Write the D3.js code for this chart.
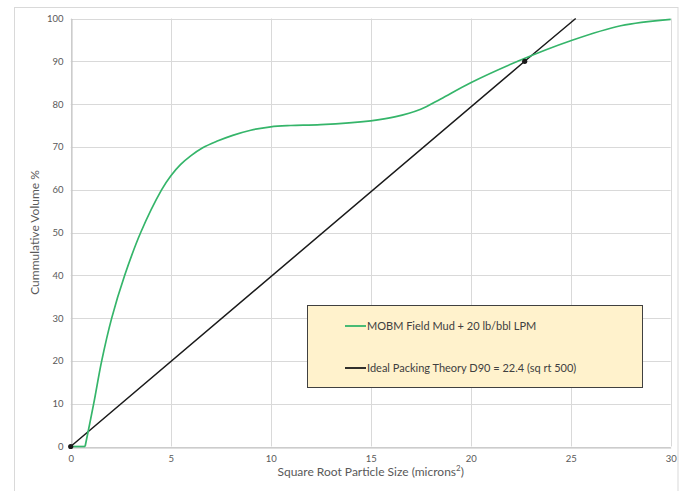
<!DOCTYPE html>
<html>
<head>
<meta charset="utf-8">
<script src="https://cdn.jsdelivr.net/npm/d3@7"></script>
<style>
  html, body { margin: 0; padding: 0; background: #ffffff; }
  svg { display: block; font-family: Lato, "Open Sans", "Liberation Sans", sans-serif; }
</style>
</head>
<body>
<svg id="chart" width="687" height="491"></svg>
<script>
// Particle size distribution: measured mud curve vs. ideal packing line
const mudSize   = [0, 0.72, 1.15, 1.55, 2.05, 2.7, 3.5, 4.55, 5, 5.5, 6, 6.6, 7.3, 8.1, 9, 10, 11, 12.5, 15, 16.2, 17.5, 18.5, 20, 22.5, 25, 27.5, 30];
const mudVolume = [0, 0, 10, 20, 30, 40, 50, 60, 63.2, 65.9, 67.9, 69.8, 71.3, 72.7, 73.9, 74.7, 75, 75.2, 76.1, 77, 78.8, 81.2, 85, 90.3, 94.8, 98.3, 99.8];

const idealSize   = [0, 22.7, 25.25];
const idealVolume = [0, 90, 100];
const idealMarkerSize   = [0, 22.7];
const idealMarkerVolume = [0, 90];

const xTicks = [0, 5, 10, 15, 20, 25, 30];
const yTicks = [0, 10, 20, 30, 40, 50, 60, 70, 80, 90, 100];

const legendLabels = ["MOBM Field Mud + 20 lb/bbl LPM", "Ideal Packing Theory D90 = 22.4 (sq rt 500)"];
const seriesColors = ["#35b56a", "#1a1a1a"];

const svg = d3.select("#chart");
const margin = { left: 70.7, right: 687 - 670.7, top: 18.5, bottom: 491 - 446.5 };
const W = 687, H = 491;

// chart frame
svg.append("rect")
  .attr("x", 14.5).attr("y", 7.5)
  .attr("width", 678 - 14.5).attr("height", 520)
  .attr("fill", "#fff").attr("stroke", "#d9d9d9").attr("stroke-width", 1);

const x = d3.scaleLinear().domain([0, 30]).range([margin.left, W - margin.right]);
const y = d3.scaleLinear().domain([0, 100]).range([H - margin.bottom, margin.top]);

// gridlines
const grid = svg.append("g").attr("stroke", "#d9d9d9").attr("stroke-width", 1);
grid.selectAll(".hg").data(yTicks).join("line")
  .attr("x1", x(0)).attr("x2", x(30))
  .attr("y1", d => Math.round(y(d)) + 0.5).attr("y2", d => Math.round(y(d)) + 0.5);
grid.selectAll(".vg").data(xTicks).join("line")
  .attr("y1", y(0)).attr("y2", y(100))
  .attr("x1", d => Math.round(x(d)) + 0.5).attr("x2", d => Math.round(x(d)) + 0.5);

// axes
const xAxis = svg.append("g")
  .attr("transform", `translate(0,${Math.round(y(0)) + 0.5})`)
  .call(d3.axisBottom(x).tickValues(xTicks).tickSize(0).tickPadding(8));
const yAxis = svg.append("g")
  .attr("transform", `translate(${Math.round(x(0)) + 0.5},0)`)
  .call(d3.axisLeft(y).tickValues(yTicks).tickSize(0).tickPadding(8));
[xAxis, yAxis].forEach(a => {
  a.select(".domain").attr("stroke", "#bfbfbf");
  a.selectAll("text").attr("fill", "#595959").attr("font-size", 9.5)
    .attr("font-family", "Lato, 'Open Sans', sans-serif");
});

// axis titles
const xTitle = svg.append("text")
  .attr("x", (x(0) + x(30)) / 2).attr("y", 476)
  .attr("text-anchor", "middle").attr("font-size", 12).attr("fill", "#595959");
xTitle.append("tspan").text("Square Root Particle Size (microns");
xTitle.append("tspan").attr("baseline-shift", "super").attr("font-size", 8).text("2");
xTitle.append("tspan").text(")");

svg.append("text")
  .attr("transform", `translate(39,${(y(0) + y(100)) / 2}) rotate(-90)`)
  .attr("text-anchor", "middle").attr("font-size", 12).attr("fill", "#595959")
  .text("Cummulative Volume %");

// series
const mudData = mudSize.map((s, i) => [s, mudVolume[i]]);
const idealData = idealSize.map((s, i) => [s, idealVolume[i]]);

svg.append("path")
  .datum(idealData)
  .attr("fill", "none").attr("stroke", seriesColors[1]).attr("stroke-width", 1.5)
  .attr("d", d3.line().x(d => x(d[0])).y(d => y(d[1])));

// flat start drawn straight, the rest as a smooth curve
const lineFn = d3.line().x(d => x(d[0])).y(d => y(d[1]));
svg.append("path")
  .datum(mudData.slice(0, 2))
  .attr("fill", "none").attr("stroke", seriesColors[0]).attr("stroke-width", 1.7)
  .attr("d", lineFn);
svg.append("path")
  .datum(mudData.slice(1))
  .attr("fill", "none").attr("stroke", seriesColors[0]).attr("stroke-width", 1.7)
  .attr("d", lineFn.curve(d3.curveCatmullRom.alpha(0.5)));

svg.selectAll(".mk").data(idealMarkerSize.map((s, i) => [s, idealMarkerVolume[i]])).join("circle")
  .attr("cx", d => x(d[0])).attr("cy", d => y(d[1])).attr("r", 2.6)
  .attr("fill", "#1a1a1a");

// legend
const lg = svg.append("g");
lg.append("rect")
  .attr("x", 307.5).attr("y", 305.5).attr("width", 335).attr("height", 82)
  .attr("fill", "#fff2cc").attr("stroke", "#404040").attr("stroke-width", 1);
legendLabels.forEach((lab, i) => {
  const cy = 326 + i * 42;
  lg.append("line").attr("x1", 345).attr("x2", 366).attr("y1", cy).attr("y2", cy)
    .attr("stroke", seriesColors[i]).attr("stroke-width", 1.8);
  lg.append("text").attr("x", 367).attr("y", cy).attr("dy", "0.35em")
    .attr("font-size", 11).attr("fill", "#404040").text(lab);
});
</script>
</body>
</html>
